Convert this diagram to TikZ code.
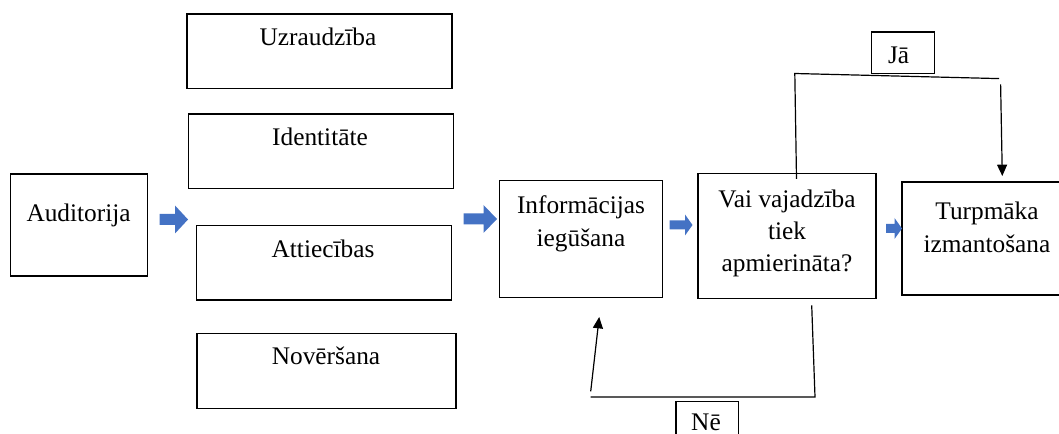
\documentclass[tikz,border=0pt]{standalone}
\usepackage{fontspec}
\setmainfont{Liberation Serif}
\usetikzlibrary{arrows.meta}
\definecolor{arrblue}{HTML}{4472C4}
\tikzset{
  box/.style={draw, line width=1pt, inner sep=0pt},
  lbl/.style={font=\fontsize{19}{24.3}\selectfont, align=center, inner sep=0pt},
  lbl1/.style={lbl, anchor=base},
  blk/.style={fill=arrblue},
  link/.style={line width=0.9pt},
  tip/.style={-{Triangle[length=8.5pt,width=7.5pt]}}
}
\begin{document}
\begin{tikzpicture}[x=0.75pt,y=-0.75pt]
  \clip (0,0) rectangle (1059,434);
  % boxes
  \node[box, minimum width=198.75pt, minimum height=55.9pt] (uzr) at (319.5,51.25) {};
  \node[box, minimum width=198.75pt, minimum height=55.9pt] (ident) at (321,151.25) {};
  \node[box, minimum width=102.75pt, minimum height=76.5pt] (aud) at (79,225) {};
  \node[box, minimum width=191.25pt, minimum height=55.7pt] (att) at (324.1,262.9) {};
  \node[box, minimum width=194.25pt, minimum height=56.25pt] (nov) at (326.5,371.3) {};
  \node[box, minimum width=122.25pt, minimum height=87.5pt] (info) at (581,239) {};
  \node[box, minimum width=133.5pt, minimum height=93.75pt] (vai) at (787,236.2) {};
  \node[box, minimum width=122.25pt, minimum height=84.75pt] (turp) at (983.5,238.5) {};
  \node[box, minimum width=46.8pt, minimum height=31.1pt] (ja) at (903,52.75) {};
  \node[box, minimum width=46.9pt, minimum height=36.75pt] (ne) at (707.25,426) {};
  % texts
  \node[lbl1] (t-uzr) at (318,45.7) {Uzraudzība};
  \node[lbl1] (t-ident) at (320,145.2) {Identitāte};
  \node[lbl1] (t-aud) at (78.6,221.7) {Auditorija};
  \node[lbl1] (t-att) at (323,257.4) {Attiecības};
  \node[lbl1] (t-nov) at (326,364.7) {Novēršana};
  \node[lbl] (t-info) at (581,224) {Informācijas\\iegūšana};
  \node[lbl] (t-vai) at (787,233.5) {Vai vajadzība\\tiek\\apmierināta?};
  \node[lbl] (t-turp) at (987,227.5) {Turpmāka\\izmantošana};
  \node[lbl1] (t-ja) at (898.6,63.7) {Jā};
  \node[lbl1, text depth=0pt] (t-ne) at (706,430.5) {Nē};
  % blue arrows
  \fill[blk] (159.5,214) -- (175,214) -- (175,205.5) -- (188,219.5) -- (175,233.5) -- (175,225) -- (159.5,225) -- cycle;
  \fill[blk] (463.5,213.5) -- (483.5,213.5) -- (483.5,205) -- (497,219) -- (483.5,233) -- (483.5,224.5) -- (463.5,224.5) -- cycle;
  \fill[blk] (669.5,220.5) -- (685,220.5) -- (685,214.5) -- (692.5,225) -- (685,235.5) -- (685,229.5) -- (669.5,229.5) -- cycle;
  \fill[blk] (886,224) -- (894.5,224) -- (894.5,218) -- (902,228.5) -- (894.5,239) -- (894.5,233) -- (886,233) -- cycle;
  % yes / no connectors
  \coordinate (jb) at (796.5,178.8);
  \coordinate (jl) at (794.8,73.5);
  \coordinate (jr) at (999,78.6);
  \coordinate (jd) at (1000.6,84.3);
  \coordinate (jt) at (1002.3,176);
  \draw[link] (jb) -- (jl) -- (jr);
  \draw[link,tip] (jd) -- (jt);
  \coordinate (nt) at (811.7,305.3);
  \coordinate (nr) at (815,397);
  \coordinate (nl) at (590.7,397);
  \coordinate (nu) at (590.7,391.4);
  \coordinate (nh) at (599.2,317);
  \draw[link] (nt) -- (nr) -- (nl);
  \draw[link,tip] (nu) -- (nh);
\end{tikzpicture}
\end{document}
